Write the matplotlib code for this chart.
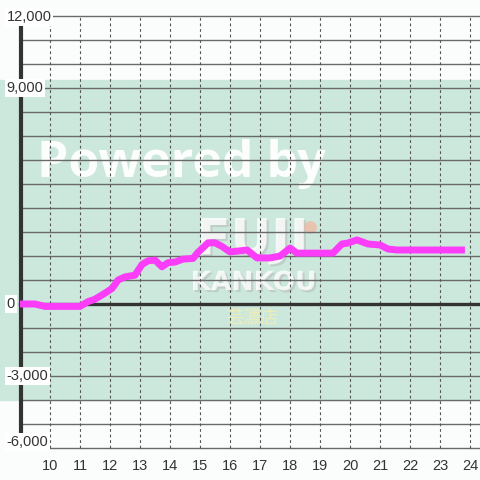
import matplotlib
matplotlib.use("Agg")
import matplotlib.pyplot as plt
import matplotlib.patheffects as pe

# hour of day -> balance
hours = [9.0, 9.5, 9.83, 11.0, 11.27, 11.5, 11.83, 12.07, 12.27, 12.5, 12.83,
         13.07, 13.27, 13.5, 13.73, 13.93, 14.17, 14.43, 14.77, 14.93, 15.27,
         15.5, 15.73, 16.0, 16.23, 16.57, 16.9, 17.33, 17.67, 18.0, 18.23,
         19.43, 19.73, 19.93, 20.23, 20.6, 21.0, 21.27, 21.57, 23.83]
values = [0, 0, -100, -100, 100, 200, 450, 650, 1000, 1130, 1200,
          1650, 1800, 1830, 1550, 1720, 1750, 1870, 1900, 2150, 2550,
          2550, 2400, 2170, 2200, 2250, 1920, 1920, 2000, 2330, 2120,
          2120, 2500, 2540, 2670, 2500, 2460, 2290, 2250, 2250]

x_ticks = list(range(10, 25))
y_labels = [12000, 9000, 0, -3000, -6000]
grid_y = list(range(-6000, 12001, 1000))
band = (-4000, 9333)

fig = plt.figure(figsize=(4.8, 4.8), dpi=100, facecolor="#fbfdfc")
ax = fig.add_axes([0, 0, 1, 1])
ax.set_facecolor("#fbfdfc")
ax.set_xlim(8.333, 24.333)
ax.set_ylim(-7333, 12667)
ax.axis("off")

ax.axhspan(*band, color="#cce8dc", zorder=0)

# watermark
ax.text(9.57, 5300, "Powered by", color="white", fontsize=36, family="Open Sans",
        fontweight="bold", va="baseline", alpha=0.95, zorder=1)
sh = [pe.withSimplePatchShadow(offset=(1.5, -1.5), shadow_rgbFace="#b0b0b0", alpha=0.45)]
ax.text(16.75, 2650, "FUJI", color="white", fontsize=36, fontweight="bold",
        ha="center", va="center", alpha=0.8, zorder=1, path_effects=sh)
ax.text(16.78, 875, "KANKOU", color="white", fontsize=19, fontweight="bold",
        ha="center", va="center", alpha=0.8, zorder=1, path_effects=sh)
ax.text(16.75, -540, "芸濃店", color="#f1eeb4", fontsize=12.5,
        family=["Noto Sans CJK JP", "DejaVu Sans"], ha="center", va="center",
        alpha=0.9, zorder=1)
ax.scatter([18.67], [3210], s=85, color="#f4b49c", alpha=0.7, zorder=1, lw=0)

# grid
for y in grid_y:
    x0 = 10 if y == -6000 else 9
    ax.plot([x0, 24.333], [y, y], color="#6a6a6a", lw=1, zorder=2)
for x in x_ticks:
    ax.plot([x, x], [-6000, 12000], color="#555555", lw=0.8,
            dashes=(2.5, 2.5), zorder=2)

ax.plot([9, 24.333], [0, 0], color="#333333", lw=2.4, zorder=3)
ax.plot([9.03, 9.03], [-6000, 12000], color="#333333", lw=3, zorder=3)

ax.plot(hours, values, color="#fb3cf8", lw=5, solid_joinstyle="round",
        solid_capstyle="butt", zorder=4)

for v in y_labels:
    yy = v
    if v == -6000:
        yy = -5750
    elif v == 12000:
        yy = 11950
    ax.text(8.55, yy, f"{v:,}", fontsize=10.5, color="#333333", family="Liberation Sans",
            ha="left", va="center", zorder=5,
            bbox=dict(boxstyle="square,pad=0.12", fc="white", ec="none"))

for x in x_ticks:
    ax.text(x, -6750, str(x), fontsize=10.5, color="#333333", family="Liberation Sans",
            ha="center", va="center", zorder=5)

fig.savefig("out.png", dpi=100, facecolor=fig.get_facecolor())
